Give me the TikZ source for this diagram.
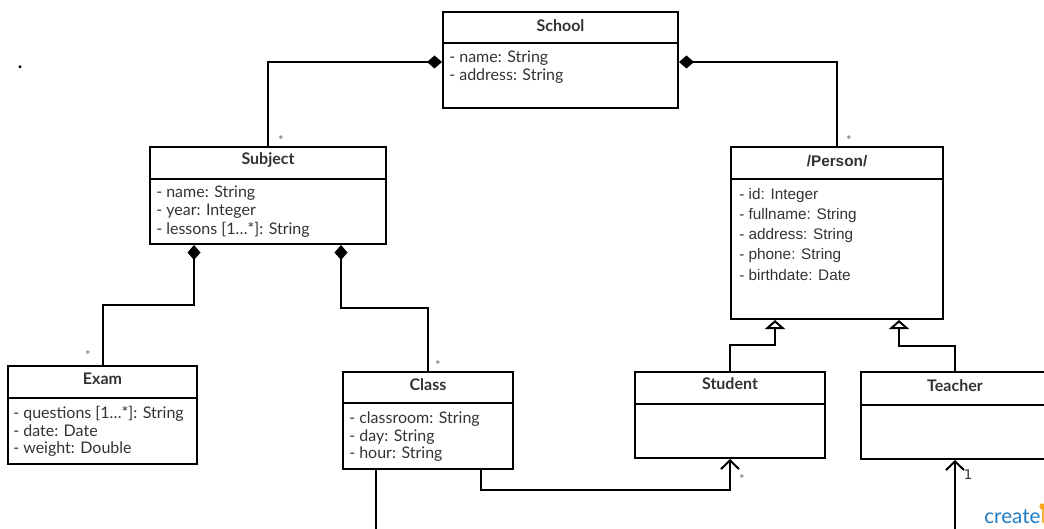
\documentclass[tikz,border=0pt]{standalone}
\usepackage{fontspec}
\setmainfont{Lato}
\newfontfamily\arialf{Liberation Sans}
\newfontfamily\dejavuf{DejaVu Sans}
\usetikzlibrary{arrows.meta,fit}
\definecolor{txt}{HTML}{333333}
\definecolor{crblue}{HTML}{1E7BC4}
\definecolor{crorange}{HTML}{F7A823}
\begin{document}
\begin{tikzpicture}[x=0.75pt,y=-0.75pt,
  umlbox/.style={draw, line width=1.5pt, inner sep=0pt},
  divider/.style={line width=1.5pt},
  ttl/.style={font=\bfseries\fontsize{12}{14}\selectfont, text=txt, inner sep=0pt},
  att/.style={anchor=west, font=\fontsize{12}{14}\selectfont, text=txt, inner sep=0pt, yshift=-1.2pt},
  pttl/.style={font=\arialf\bfseries\fontsize{11.5}{14}\selectfont, text=txt, inner sep=0pt},
  patt/.style={anchor=west, font=\arialf\fontsize{11.5}{14}\selectfont, text=txt, inner sep=0pt, yshift=-1.8pt},
  mult/.style={font=\fontsize{10}{10}\selectfont, text=black!55, inner sep=0pt, yshift=-2.4pt},
  conn/.style={line width=1.5pt},
  comp/.style={conn, {Diamond[length=11.25pt,width=9.75pt]}-},
  gen/.style={conn, -{Triangle[open,length=6.75pt,width=15pt,fill=white]}},
  nav/.style={conn, -{Straight Barb[length=6.5pt,width=13.5pt]}},
]
\useasboundingbox (0,0) rectangle (1044,528);
\clip (0,0) rectangle (1044,528);

% ---- School
\node[umlbox, fit={(443,12) (678,108)}] (school) {};
\draw[divider] (school.west |- 0,43) -- (school.east |- 0,43);
\node[ttl] (schoolT) at (560.5,25.5) {School};
\node[att] (schoolA1) at (449,57) {- name: String};
\node[att] (schoolA2) at (449,74) {- address: String};

% ---- Subject
\node[umlbox, fit={(150,147) (386,244)}] (subject) {};
\draw[divider] (subject.west |- 0,179) -- (subject.east |- 0,179);
\node[ttl] (subjectT) at (268,160) {Subject};
\node[att] (subjectA1) at (156,192) {- name: String};
\node[att] (subjectA2) at (156,210) {- year: Integer};
\node[att] (subjectA3) at (156,228) {- lessons [1…*]: String};

% ---- Person
\node[umlbox, fit={(731,147) (943,319)}] (person) {};
\draw[divider] (person.west |- 0,179) -- (person.east |- 0,179);
\node[pttl] (personT) at (837,161) {/Person/};
\node[patt] (personA1) at (739,193) {- id: Integer};
\node[patt] (personA2) at (739,213) {- fullname: String};
\node[patt] (personA3) at (739,233) {- address: String};
\node[patt] (personA4) at (739,253) {- phone: String};
\node[patt] (personA5) at (739,273) {- birthdate: Date};

% ---- Exam
\node[umlbox, fit={(8,366) (197,464)}] (exam) {};
\draw[divider] (exam.west |- 0,398) -- (exam.east |- 0,398);
\node[ttl] (examT) at (102.5,379) {Exam};
\node[att] (examA1) at (13,412) {- questions [1…*]: String};
\node[att] (examA2) at (13,429) {- date: Date};
\node[att] (examA3) at (13,447) {- weight: Double};

% ---- Class
\node[umlbox, fit={(343,372) (513,469)}] (class) {};
\draw[divider] (class.west |- 0,403) -- (class.east |- 0,403);
\node[ttl] (classT) at (428,385) {Class};
\node[att] (classA1) at (349,417) {- classroom: String};
\node[att] (classA2) at (349,435) {- day: String};
\node[att] (classA3) at (349,452) {- hour: String};

% ---- Student
\node[umlbox, fit={(635,372) (825,458)}] (student) {};
\draw[divider] (student.west |- 0,404) -- (student.east |- 0,404);
\node[ttl] (studentT) at (730,384) {Student};

% ---- Teacher
\node[umlbox, fit={(861,372) (1049,459)}] (teacher) {};
\draw[divider] (teacher.west |- 0,405) -- (teacher.east |- 0,405);
\node[ttl] (teacherT) at (955,386) {Teacher};

% ---- connectors
\draw[comp] (school.west |- 0,62) -| (subject.north);
\draw[comp] (school.east |- 0,62) -| (person.north);
\draw[comp] (subject.south -| 194,0) -- (194,305) -| (exam.north);
\draw[comp] (subject.south -| 341,0) -- (341,308) -| (class.north);
\draw[gen] (student.north) |- (775,345) -- (person.south -| 775,0);
\draw[gen] (teacher.north) |- (899,346) -- (person.south -| 899,0);
\draw[nav] (class.south -| 481,0) |- (730,490) -- (student.south);
\coordinate (classdown) at (376,540);
\draw[conn] (class.south -| 376,0) -- (classdown);
\coordinate (teachup) at (955,540);
\draw[nav] (teachup) -- (teacher.south);

% ---- multiplicities
\node[mult] (m1) at (281,137) {*};
\node[mult] (m2) at (849,137) {*};
\node[mult] (m3) at (88,352) {*};
\node[mult] (m4) at (438,362) {*};
\node[mult] (m5) at (742,476) {*};
\node[font=\dejavuf\fontsize{10}{12}\selectfont, text=txt, inner sep=0pt] (m6) at (968,475) {1};

% ---- stray dot
\node[font=\bfseries\fontsize{14}{14}\selectfont, inner sep=0pt] (dot) at (20,67) {.};

% ---- logo
\node[anchor=base west, font=\fontsize{15.5}{16}\selectfont, text=crblue, inner sep=0pt] (logo) at (984,523) {create\textcolor{crorange}{l}};
\fill[crorange] (logo.north east) ++(-3.2,-1) circle (3.2);
\end{tikzpicture}
\end{document}
